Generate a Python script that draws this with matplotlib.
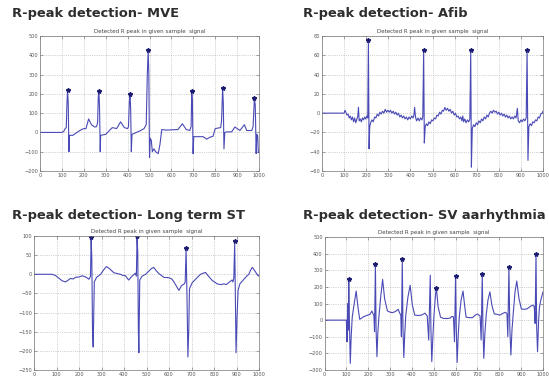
import numpy as np
import matplotlib.pyplot as plt

# ---- data ----
titulos = ["R-peak detection- MVE", "R-peak detection- Afib",
           "R-peak detection- Long term ST", "R-peak detection- SV aarhythmia"]

mve = [(0, 0), (100, 0), (108, 5), (115, 20), (120, 25), (123, 150), (126, 218), (129, 150),
       (132, -100), (134, -15), (150, -15), (175, 5), (190, 15), (200, 20), (210, 20), (222, 70),
       (235, 40), (250, 28), (258, 30), (263, 50), (266, 180), (269, 215), (272, 120), (275, -100),
       (277, -15), (300, -10), (330, 25), (350, 20), (368, 55), (385, 25), (400, 20), (404, 30),
       (408, 160), (411, 197), (414, 120), (417, -100), (420, -10), (440, 0), (460, 10), (475, 20),
       (485, 40), (490, 300), (494, 427), (497, 300), (500, -130), (503, -30), (508, -40),
       (513, -100), (520, -85), (528, -100), (540, -110), (548, -60), (556, 15), (575, 12),
       (630, 15), (650, 45), (668, 15), (684, 10), (690, 30), (693, 214), (696, 150), (699, -110),
       (702, -22), (745, -22), (761, -35), (775, -25), (790, -20), (800, 20), (825, 25), (829, 60),
       (834, 228), (837, 150), (840, -85), (844, 0), (853, 3), (875, 3), (890, 28), (913, 10),
       (933, 40), (944, 10), (967, 10), (973, 30), (979, 176), (983, 140), (987, -110), (990, -10),
       (994, -20), (997, -105), (1000, -100)]
mve_picos = [(126, 218), (269, 215), (411, 197), (494, 427), (693, 214), (834, 228), (979, 176)]

afib = [(0, 0), (100, 0), (104, 3), (108, 1), (113, -2), (118, -1), (123, -5), (128, -3), (133, -7),
        (138, -4), (143, -9), (148, -5), (153, -10), (158, -6), (162, -3), (165, 6), (168, -8),
        (173, -6), (178, -9), (183, -5), (188, -7), (193, -4), (198, -6), (203, -3), (207, -5),
        (210, 76), (213, -37), (216, -14), (220, -10), (226, -7), (232, -9), (238, -4), (244, -5),
        (250, -1), (256, -3), (262, 1), (268, -1), (274, 2), (280, 0), (286, 4), (292, 1), (298, 3),
        (304, 1), (310, 3), (316, 0), (322, 2), (328, -1), (334, 1), (340, -2), (346, 0), (352, -4),
        (358, -2), (364, -5), (370, -3), (376, -6), (382, -4), (388, -7), (394, -4), (400, -6),
        (406, -3), (412, -5), (416, -2), (419, 6), (423, -4), (428, -8), (434, -5), (440, -8),
        (446, -5), (452, -7), (456, -4), (460, 65), (463, -31), (467, -14), (472, -11), (478, -13),
        (484, -9), (490, -11), (496, -7), (502, -8), (508, -5), (514, -6), (520, -2), (526, -3),
        (532, 1), (538, -1), (544, 3), (550, 2), (556, 6), (562, 3), (568, 5), (574, 2), (580, 4),
        (586, 0), (592, 2), (598, -2), (604, 0), (610, -4), (616, -3), (622, -6), (628, -4),
        (633, -8), (637, -3), (641, -9), (646, -6), (652, -10), (658, -7), (664, -9), (669, -6),
        (673, 65), (676, -56), (680, -16), (686, -12), (692, -14), (698, -10), (704, -12), (710, -8),
        (716, -10), (722, -6), (728, -8), (734, -4), (740, -6), (746, -2), (752, -4), (758, 0),
        (764, 2), (770, 0), (776, 3), (782, 1), (788, 2), (794, -1), (800, 1), (806, -2), (812, 0),
        (818, -3), (824, -1), (830, -4), (836, -2), (842, -5), (848, -3), (854, -6), (860, -4),
        (866, -6), (872, -3), (878, -5), (884, 5), (888, -8), (894, -10), (900, -7), (906, -9),
        (912, -6), (918, -8), (924, -5), (928, 65), (932, -49), (936, -14), (942, -11), (948, -13),
        (954, -9), (960, -10), (966, -7), (972, -8), (978, -4), (984, -5), (990, -1), (996, 0),
        (1000, 2)]
afib_picos = [(210, 76), (460, 65), (673, 65), (928, 65)]

lst = [(0, 0), (80, 0), (95, -3), (110, -10), (125, -17), (140, -20), (150, -16), (162, -11),
       (175, -12), (184, -8), (200, -7), (214, -4), (225, -6), (235, -9), (244, -13), (248, -9),
       (251, -5), (254, 95), (257, 40), (260, -145), (263, -190), (268, -20), (278, -8), (296, 0),
       (310, 12), (322, 20), (335, 15), (355, 4), (370, 2), (384, 0), (395, -3), (407, -4),
       (414, -10), (421, -15), (428, -10), (435, -5), (444, -1), (450, 3), (455, -5), (458, 97),
       (461, 60), (464, -150), (466, -205), (470, -15), (480, -5), (496, 0), (510, 8), (522, 15),
       (532, 18), (545, 8), (555, 2), (577, -8), (599, -9), (612, -12), (622, -20), (636, -34),
       (644, -42), (650, -36), (655, -30), (662, -27), (668, -25), (672, -20), (676, 66), (680, -60),
       (684, -216), (688, -140), (691, -38), (703, -22), (718, -13), (740, 0), (762, 5), (777, -6),
       (792, -16), (814, -25), (830, -27), (844, -25), (855, -27), (865, -22), (873, -18),
       (880, -15), (884, -20), (888, -10), (892, 82), (895, -60), (898, -205), (902, -120),
       (907, -42), (915, -25), (933, -13), (945, -5), (955, 0), (962, 10), (970, 18), (978, 12),
       (987, 4), (993, -2), (1000, -5)]
lst_picos = [(254, 97), (458, 99), (676, 68), (892, 88)]

sva = [(0, 0), (100, 0), (103, -130), (106, 100), (109, -60), (111, 250), (114, 0), (118, -260),
       (122, -100), (127, 20), (135, 90), (145, 175), (153, 80), (161, 5), (170, 12), (178, 20),
       (193, 28), (208, 35), (217, 55), (222, 38), (226, 30), (229, -70), (233, 340), (236, -50),
       (240, -220), (244, -80), (249, 20), (258, 150), (266, 245), (275, 130), (288, 55), (300, 48),
       (311, 45), (325, 52), (337, 65), (345, 40), (349, 30), (352, -100), (356, 370), (359, -40),
       (363, -225), (367, -90), (372, 30), (382, 140), (392, 210), (402, 90), (413, 30), (428, 28),
       (443, 30), (455, 38), (460, 42), (470, 25), (477, -120), (484, 270), (487, -50), (491, -250),
       (496, -100), (501, 30), (508, 150), (512, 195), (520, 80), (531, 18), (545, 10), (560, 10),
       (575, 12), (582, 22), (590, 20), (595, -130), (600, 265), (603, -40), (607, -255), (612, -90),
       (617, 20), (625, 120), (634, 175), (642, 80), (648, 18), (662, 15), (677, 15), (690, 30),
       (700, 37), (712, 25), (717, -120), (722, 280), (725, -30), (729, -230), (734, -80), (740, 30),
       (748, 120), (757, 170), (766, 90), (777, 37), (790, 35), (802, 30), (815, 40), (827, 47),
       (835, 40), (839, -100), (844, 322), (848, -40), (853, -210), (858, -60), (865, 60),
       (872, 170), (880, 235), (890, 130), (901, 67), (915, 65), (927, 68), (940, 80), (946, 86),
       (955, 90), (960, 80), (964, -20), (968, 400), (971, -40), (975, -190), (980, 0), (984, 80),
       (990, 120), (1000, 170)]
sva_picos = [(111, 250), (233, 340), (356, 370), (512, 195), (600, 265), (722, 280), (844, 322), (968, 400)]

limites_y = [(-200, 500, 100), (-60, 80, 20), (-250, 100, 50), (-300, 500, 100)]
senales = [mve, afib, lst, sva]
picos = [mve_picos, afib_picos, lst_picos, sva_picos]

# ---- layout in pixels (left, right, top, bottom) ----
W, H = 549, 378
cajas = [(40, 259, 36, 171), (322, 543, 36, 171), (34, 259, 236, 370), (324.5, 543, 237, 370)]
cabeceras = [(12, 17.5), (303, 17.5), (12, 219.5), (303, 219.5)]

fig = plt.figure(figsize=(W / 100, H / 100), dpi=100)
fig.patch.set_facecolor('white')

for i in range(4):
    l, r, t, b = cajas[i]
    ax = fig.add_axes([l / W, 1 - b / H, (r - l) / W, (b - t) / H])
    d = np.array(senales[i])
    p = np.array(picos[i])
    ax.plot(d[:, 0], d[:, 1], color='#4a4ab6', lw=0.8)
    ax.plot(p[:, 0], p[:, 1], '*', color='#1c1c70', ms=3.2)
    y0, y1, paso = limites_y[i]
    ax.set_xlim(0, 1000)
    ax.set_ylim(y0, y1)
    ax.set_xticks(np.arange(0, 1001, 100))
    ax.set_yticks(np.arange(y0, y1 + 1, paso))
    ax.grid(True, linestyle=':', color='#aaaaaa', lw=0.5)
    ax.tick_params(direction='in', length=2, width=0.4, labelsize=3.6, labelcolor='#555555',
                   color='#666666', top=True, right=True, pad=1.2)
    for s in ax.spines.values():
        s.set_color('#777777')
        s.set_linewidth(0.5)
    ax.set_title('Detected R peak in given sample  signal', fontsize=4, color='#444444', pad=2.5)

    hx, hy = cabeceras[i]
    fig.text(hx / W, 1 - hy / H, titulos[i], fontsize=9.4, fontweight='bold',
             color='#2e2e2e', ha='left', va='baseline')

plt.savefig('out.png', dpi=100)
